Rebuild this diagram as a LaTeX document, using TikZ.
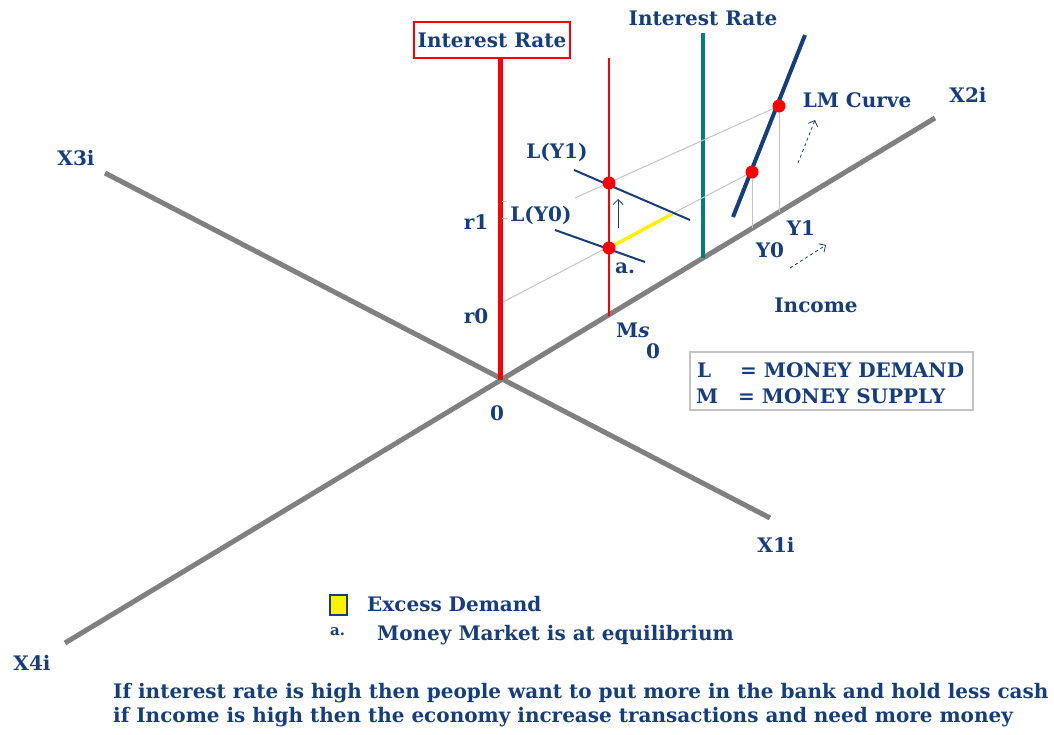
\documentclass[tikz,border=0pt]{standalone}
\usepackage{fontspec}
\setmainfont{DejaVu Serif}
\usepackage{tikz}
\usetikzlibrary{arrows.meta,positioning}
\definecolor{txtblue}{RGB}{22,62,125}
\definecolor{axgray}{RGB}{128,128,128}
\definecolor{tealc}{RGB}{0,128,120}
\definecolor{thingray}{RGB}{195,195,195}

\begin{document}
\begin{tikzpicture}[
			x=1pt, y=-1pt,
			font=\bfseries\fontsize{20}{22}\selectfont,
			lbl/.style={text=txtblue, inner sep=0pt},
			note/.style={text=txtblue, inner sep=0pt, anchor=west},
			axis/.style={draw=axgray, line width=5pt},
			guide/.style={draw=thingray, line width=1pt},
			dot/.style={circle, fill=red, inner sep=0pt, minimum size=13pt},
			fl/.style={-{Straight Barb[length=5pt]}, draw=txtblue, line width=0.8pt}
		]
		\useasboundingbox (0,0) rectangle (1054,734);

		% axes
		\coordinate (o) at (500,380);
		\coordinate (x3) at (105,173);
		\coordinate (x1) at (770,518);
		\coordinate (x4) at (65,643);
		\coordinate (x2) at (935,118);
		\draw[axis] (x3) -- (x1);
		\draw[axis] (x4) -- (x2);

		\node[lbl] (lx3) at (76,158) {X3i};
		\node[lbl] (lx2) at (968,95) {X2i};
		\node[lbl] (lx1) at (776,545) {X1i};
		\node[lbl] (lx4) at (32,663) {X4i};
		\node[lbl] (lo) at (497,413) {0};

		% interest rate axis
		\node[draw=red, line width=1.5pt, fill=white, text=txtblue, inner sep=3pt, minimum width=156pt, minimum height=36pt] (ir) at (492,40) {Interest Rate};
		\draw[red, line width=5pt] (o) -- (ir.south -| o);
		\draw[thingray, line width=0.8pt] (502,201) -- (507,201);
		\draw[thingray, line width=0.8pt] (502,218) -- (508,218);
		\node[lbl] (r1) at (476,222) {r1};
		\node[lbl] (r0) at (476,316) {r0};

		% money supply
		\coordinate (mstop) at (609,58);
		\coordinate (msbot) at (609,316);
		\draw[red, line width=1.5pt] (mstop) -- (msbot);
		\node[lbl, anchor=west] (ms) at (616,330) {M\textit{s}};
		\node[lbl] (ms0) at (653,351) {0};

		% second interest rate axis
		\node[lbl] (ir2) at (703,18) {Interest Rate};
		\coordinate (ttop) at (703,33);
		\coordinate (tbot) at (703,258);
		\draw[tealc, line width=3.5pt] (ttop) -- (tbot);

		% points
		\coordinate (e1) at (609,183);
		\coordinate (e0) at (609,248);
		\coordinate (m0) at (752,172);
		\coordinate (m1) at (779,106);
		\coordinate (r0p) at (503,302);
		\coordinate (r1p) at (575,198);
		\coordinate (y0) at (752,228);
		\coordinate (y1) at (779,212);
		\coordinate (xd) at (672,214);

		\draw[guide] (r0p) -- (m0);
		\draw[guide] (r1p) -- (m1);
		\draw[guide] (m0) -- (y0);
		\draw[guide] (m1) -- (y1);

		% money demand curves
		\coordinate (a1) at (574,170);
		\coordinate (b1) at (690,220);
		\coordinate (a0) at (555,230);
		\coordinate (b0) at (645,262);
		\draw[txtblue, line width=2pt] (a1) -- (b1);
		\draw[txtblue, line width=2pt] (a0) -- (b0);
		\draw[yellow, line width=3.5pt] (e0) -- (xd);
		\node[lbl] (ly1) at (557,152) {L(Y1)};
		\node[lbl] (ly0) at (541,215) {L(Y0)};
		\node[lbl] (la) at (625,268) {a.};

		% LM curve
		\coordinate (lma) at (733,217);
		\coordinate (lmb) at (805,35);
		\draw[txtblue, line width=4pt] (lma) -- (lmb);
		\node[dot] (d1) at (e1) {};
		\node[dot] (d0) at (e0) {};
		\node[dot] (d2) at (m0) {};
		\node[dot] (d3) at (m1) {};
		\node[lbl] (lm) at (857,100) {LM Curve};
		\node[lbl] (ly1t) at (801,228) {Y1};
		\node[lbl] (ly0t) at (770,250) {Y0};
		\node[lbl] (inc) at (816,305) {Income};

		% shift arrows
		\coordinate (up0) at (618,228);
		\coordinate (up1) at (618,199);
		\draw[fl] (up0) -- (up1);
		\coordinate (s0) at (790,268);
		\coordinate (s1) at (826,245);
		\draw[fl, dashed] (s0) -- (s1);
		\coordinate (t0) at (798,163);
		\coordinate (t1) at (815,120);
		\draw[fl, dashed] (t0) -- (t1);

		% key
		\draw[thingray, line width=1.5pt] (690,352) rectangle (973,410);
		\node[lbl, anchor=west] (kl) at (697,370) {L};
		\node[lbl, anchor=west] (kld) at (740,370) {= MONEY DEMAND};
		\node[lbl, anchor=west] (km) at (696,396) {M};
		\node[lbl, anchor=west] (kms) at (738,396) {= MONEY SUPPLY};

		% legend
		\node[draw=txtblue, fill=yellow, line width=2pt, minimum width=17pt, minimum height=20pt, inner sep=0pt] (sq) at (338,605) {};
		\node[note] (exd) at (367,604) {Excess Demand};
		\node[note, font=\bfseries\fontsize{15}{17}\selectfont] (lga) at (330,632) {a.};
		\node[note] (eq) at (377,635) {Money Market is at equilibrium};

		\node[note] (n1) at (113,693) {If interest rate is high then people want to put more in the bank and hold less cash};
		\node[note] (n2) at (113,717) {if Income is high then the economy increase transactions and need more money};
	\end{tikzpicture}
\end{document}
